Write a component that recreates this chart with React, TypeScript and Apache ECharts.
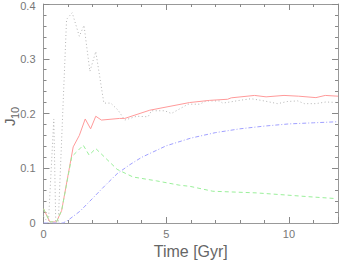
import React, { useEffect, useRef } from "react";
import * as echarts from "echarts";

const grayTotal: [number, number][] = [
  [0, 0.012], [0.2, 0.0], [0.42, 0.19], [0.5, 0.0], [0.6, 0.0], [0.94, 0.372], [1.17, 0.384],
  [1.46, 0.341], [1.65, 0.361], [1.89, 0.277], [2.13, 0.313], [2.46, 0.219], [2.74, 0.219],
  [3.04, 0.206], [3.31, 0.188], [3.8, 0.195], [4.26, 0.194], [4.4, 0.205], [4.94, 0.205],
  [5.21, 0.2], [5.89, 0.217], [6.36, 0.217], [6.63, 0.223], [7.17, 0.223], [7.3, 0.219],
  [7.6, 0.221], [7.99, 0.224], [8.46, 0.227], [8.87, 0.224], [9.54, 0.218], [9.95, 0.222],
  [10.36, 0.223], [10.63, 0.218], [11.1, 0.218], [11.5, 0.221], [12, 0.22],
];
const redSolid: [number, number][] = [
  [0, 0.026], [0.26, 0.002], [0.53, 0.002], [0.74, 0.023], [1.21, 0.139], [1.46, 0.16],
  [1.7, 0.19], [1.92, 0.172], [2.13, 0.195], [2.36, 0.188], [3.1, 0.191], [3.31, 0.191],
  [4.33, 0.206], [5.95, 0.22], [6.77, 0.224], [7.5, 0.226], [7.65, 0.2286], [8.6, 0.233],
  [9.07, 0.2304], [9.8, 0.233], [10.4, 0.2316], [11.1, 0.229], [11.48, 0.233], [12, 0.2316],
];
const greenDashed: [number, number][] = [
  [0, 0.026], [0.26, 0.002], [0.53, 0.002], [0.74, 0.023], [1.15, 0.121], [1.62, 0.142],
  [1.86, 0.124], [2.13, 0.136], [3.0, 0.098], [3.65, 0.084], [4.6, 0.077], [5.55, 0.069],
  [5.96, 0.067], [6.9, 0.058], [8.67, 0.055], [9.61, 0.052], [10.97, 0.0475], [11.92, 0.0446],
];
const blueDashDot: [number, number][] = [
  [0, 0], [0.8, 0], [1.0, 0.005], [1.5, 0.022], [2.0, 0.045], [2.5, 0.068], [3.0, 0.09],
  [3.5, 0.106], [4.0, 0.12], [5.0, 0.141], [6.0, 0.155], [7.0, 0.165], [8.0, 0.172],
  [9.0, 0.177], [10.0, 0.181], [11.0, 0.183], [12.0, 0.185],
];
const xTicks = [0, 5, 10];
const yTicks = [0, 0.1, 0.2, 0.3, 0.4];

export default function App() {
  const ref = useRef<HTMLDivElement>(null);
  useEffect(() => {
    if (!ref.current) return;
    const chart = echarts.init(ref.current, null, { renderer: "svg" });
    const axisColor = "#999";
    const labelColor = "#777";
    const font = "Liberation Sans";
    const baseAxis = {
      axisLine: { show: true, onZero: false, lineStyle: { color: axisColor, width: 1 } },
      axisTick: { show: true, inside: true, length: 6, lineStyle: { color: "#888" } },
      minorTick: { show: true, splitNumber: 5, length: 3, lineStyle: { color: "#888" } },
      splitLine: { show: false },
      minorSplitLine: { show: false },
    };
    const yMax = yTicks[yTicks.length - 1];
    chart.setOption({
      animation: false,
      grid: { left: 43.5, right: 1, top: 4, bottom: 37, containLabel: false, outerBoundsMode: "none" },
      xAxis: [
        {
          ...baseAxis,
          type: "value", min: 0, max: 12, interval: 5, position: "bottom",
          axisLabel: {
            color: labelColor, fontFamily: font, fontSize: 11, margin: 5,
            formatter: (v: number) => (xTicks.includes(v) ? String(v) : ""),
          },
          name: "Time [Gyr]", nameLocation: "middle", nameGap: 19,
          nameTextStyle: { color: "#666", fontFamily: font, fontSize: 16, verticalAlign: "top" },
        },
        {
          ...baseAxis,
          type: "value", min: 0, max: 12, interval: 5, position: "top",
          axisLabel: { show: false },
        },
      ],
      yAxis: [
        {
          ...baseAxis,
          type: "value", min: 0, max: 0.4, interval: 0.1, position: "left",
          axisLabel: {
            color: labelColor, fontFamily: font, fontSize: 11, margin: 8,
            verticalAlign: "middle", showMaxLabel: true,
            formatter: (v: number) => {
              const t = yTicks.find((y) => Math.abs(y - v) < 1e-9);
              if (t === undefined) return "";
              return t === yMax ? "{top|" + String(t) + "}" : String(t);
            },
            rich: {
              top: { color: labelColor, fontFamily: font, fontSize: 11, padding: [3, 0, 0, 0] },
            },
          },
        },
        {
          ...baseAxis,
          type: "value", min: 0, max: 0.4, interval: 0.1, position: "right",
          axisLabel: { show: false },
        },
      ],
      graphic: [
        {
          type: "group", x: 17, y: 126, rotation: Math.PI / 2,
          children: [
            { type: "text", x: 0, y: 0, style: { text: "J", fill: "#666", font: "15px Liberation Sans", textVerticalAlign: "bottom" } },
            { type: "text", x: 7, y: 3, style: { text: "10", fill: "#666", font: "11px Liberation Sans", textVerticalAlign: "bottom" } },
          ],
        },
      ],
      series: [
        {
          type: "line", data: grayTotal, showSymbol: false, symbol: "none",
          lineStyle: { color: "#b4b4b4", width: 1, type: [1, 2.5] },
        },
        {
          type: "line", data: redSolid, showSymbol: false, symbol: "none",
          lineStyle: { color: "#ff9a9a", width: 1 },
        },
        {
          type: "line", data: greenDashed, showSymbol: false, symbol: "none",
          lineStyle: { color: "#9aef9a", width: 1, type: [4, 3] },
        },
        {
          type: "line", data: blueDashDot, showSymbol: false, symbol: "none",
          lineStyle: { color: "#a0a0ff", width: 1, type: [4, 2, 1, 2] },
        },
      ],
    });
    return () => chart.dispose();
  }, []);
  return <div ref={ref} style={{ position: "absolute", left: 0, top: 0, width: 339, height: 260 }} />;
}
